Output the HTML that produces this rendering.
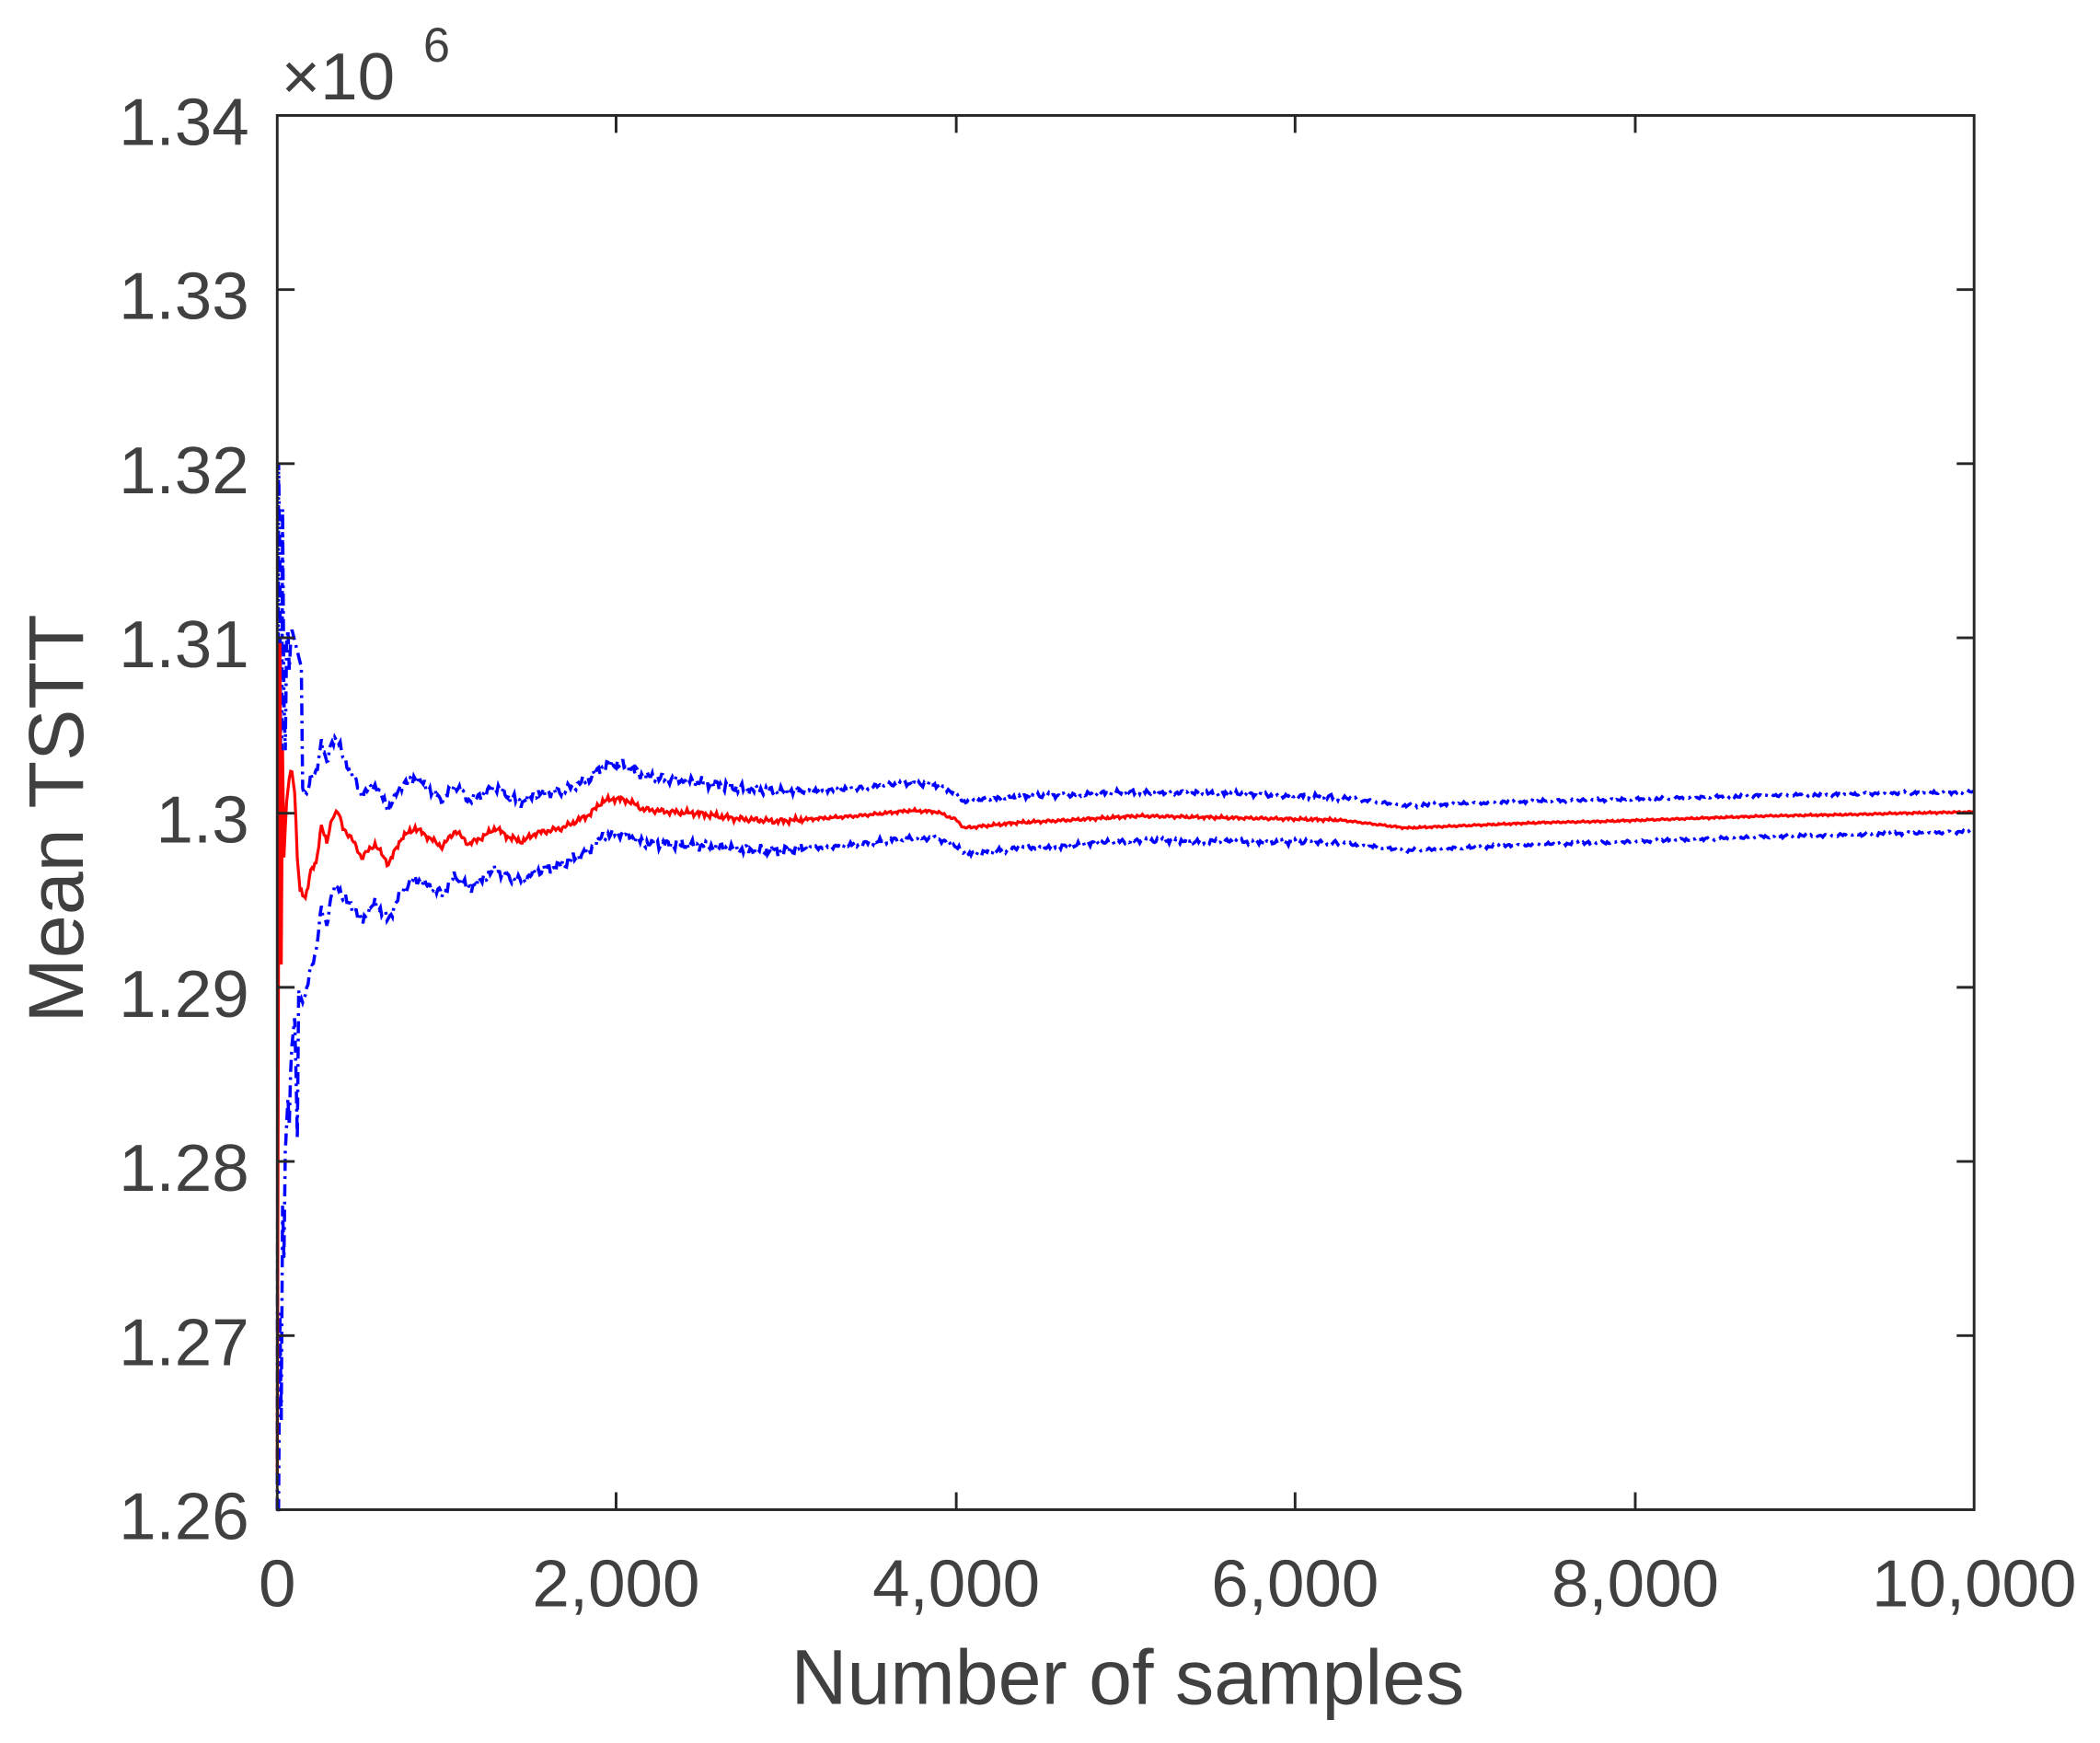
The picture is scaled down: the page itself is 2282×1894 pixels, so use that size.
<!DOCTYPE html>
<html><head><meta charset="utf-8"><style>
html,body{margin:0;padding:0;background:#fff;}
svg{display:block;}
text{font-family:"Liberation Sans",Arial,sans-serif;fill:#404040;}
</style></head><body>
<svg id="s" width="2282" height="1894" viewBox="0 0 1568 1301" xmlns="http://www.w3.org/2000/svg">
<rect x="0" y="0" width="1568" height="1301" fill="#fff"/>
<g id="data"></g>
<rect x="207" y="86" width="1267" height="1041" fill="none" stroke="#262626" stroke-width="2"/>
<g stroke="#262626" stroke-width="2">
<line x1="207" y1="216" x2="220" y2="216"/><line x1="207" y1="346" x2="220" y2="346"/><line x1="207" y1="476" x2="220" y2="476"/><line x1="207" y1="607" x2="220" y2="607"/><line x1="207" y1="737" x2="220" y2="737"/><line x1="207" y1="867" x2="220" y2="867"/><line x1="207" y1="997" x2="220" y2="997"/>
<line x1="1474" y1="216" x2="1461" y2="216"/><line x1="1474" y1="346" x2="1461" y2="346"/><line x1="1474" y1="476" x2="1461" y2="476"/><line x1="1474" y1="607" x2="1461" y2="607"/><line x1="1474" y1="737" x2="1461" y2="737"/><line x1="1474" y1="867" x2="1461" y2="867"/><line x1="1474" y1="997" x2="1461" y2="997"/>
<line x1="460" y1="1127" x2="460" y2="1114"/><line x1="714" y1="1127" x2="714" y2="1114"/><line x1="967" y1="1127" x2="967" y2="1114"/><line x1="1221" y1="1127" x2="1221" y2="1114"/>
<line x1="460" y1="86" x2="460" y2="99"/><line x1="714" y1="86" x2="714" y2="99"/><line x1="967" y1="86" x2="967" y2="99"/><line x1="1221" y1="86" x2="1221" y2="99"/>
</g>
<g font-size="50" text-anchor="end">
<text x="186" y="108">1.34</text><text x="186" y="238">1.33</text><text x="186" y="368">1.32</text><text x="186" y="498">1.31</text><text x="186" y="629">1.3</text><text x="186" y="759">1.29</text><text x="186" y="889">1.28</text><text x="186" y="1019">1.27</text><text x="186" y="1149">1.26</text>
</g>
<g font-size="50" text-anchor="middle">
<text x="207" y="1199">0</text><text x="460" y="1199">2,000</text><text x="714" y="1199">4,000</text><text x="967" y="1199">6,000</text><text x="1221" y="1199">8,000</text><text x="1474" y="1199">10,000</text>
</g>
<text x="210" y="74" font-size="50">×10</text>
<text x="316" y="46" font-size="36">6</text>
<text x="842" y="1272" font-size="58" text-anchor="middle">Number of samples</text>
<text transform="translate(62,611) rotate(-90)" font-size="58" text-anchor="middle">Mean TSTT</text>
</svg>
<script>
var R=[[207,1100],[208,700],[209,480],[210,720],[211,560],[212,640],[214,600],[216,580],[218,575],[220,590],[222,640],[224,665],[228,670],[232,650],[236,645],[240,615],[244,630],[248,610],[252,605],[256,618],[262,625],[270,640],[280,630],[290,645],[300,625],[310,618],[320,625],[330,632],[340,620],[350,630],[360,625],[370,618],[380,625],[390,628],[400,622],[420,618],[440,608],[450,598],[460,596],[470,598],[480,604],[500,606],[520,607],[550,611],[580,613],[610,611],[640,609],[680,605],[700,606],[714,612],[720,618],[760,614],[800,612],[850,609],[900,610],[950,611],[1000,612],[1050,618],[1100,616],[1150,614],[1200,613],[1260,611],[1320,609],[1380,608],[1420,607],[1474,606]];
function red(x){for(var i=1;i<R.length;i++){if(x<=R[i][0]){var a=R[i-1],b=R[i];var t=(x-a[0])/(b[0]-a[0]);return a[1]+t*(b[1]-a[1]);}}return R[R.length-1][1];}
function nz(x){return 2.2*Math.sin(x*1.7)+1.5*Math.sin(x*0.63+1)+1.2*Math.sin(x*3.1+2);}
var r="",u="",l="";
for(var x=207;x<=1474;x+=1){var y=red(x);var d=x<212?0:8+500/Math.pow(x-200,0.6);var damp=x<600?1:(x<1000?0.5:0.3);
var yr=y+(x>212?nz(x+11)*damp*0.6:0);
var yu=y-d+nz(x)*damp,yl=y+d+nz(x+37)*damp;
if(x<=222){var t=(x-207);yu=[1127,345,420,700,380,520,560,480,470,500,480,470,475,480,520,560][t];yl=[1127,1127,980,1060,900,940,860,840,820,840,800,780,770,760,800,850][t];}
if(x>=218&&x<=225){yu=Math.min(yu,470+(x-218)*4);}
r+=(x==207?"M":"L")+x+","+yr.toFixed(1);
u+=(x==207?"M":"L")+x+","+yu.toFixed(1);
l+=(x==207?"M":"L")+x+","+yl.toFixed(1);}
document.getElementById("data").innerHTML='<path d="'+u+'" fill="none" stroke="#0000ff" stroke-width="2.4" stroke-dasharray="9,4,2,4"/><path d="'+l+'" fill="none" stroke="#0000ff" stroke-width="2.4" stroke-dasharray="9,4,2,4"/><path d="'+r+'" fill="none" stroke="#ff0000" stroke-width="2.2"/>';
</script>
</body></html>
